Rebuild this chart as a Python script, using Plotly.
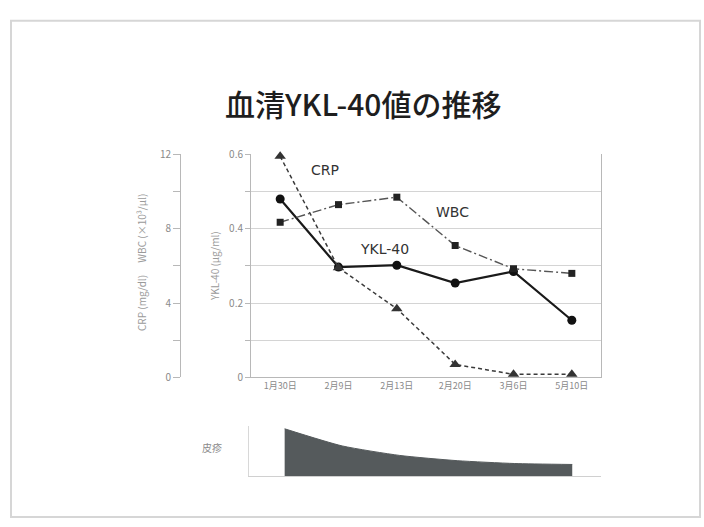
import plotly.graph_objects as go

# Sampling dates
dates = ["1月30日", "2月9日", "2月13日", "2月20日", "3月6日", "5月10日"]

# Serum YKL-40 (μg/ml)
ykl40 = [0.48, 0.297, 0.302, 0.254, 0.285, 0.154]
# WBC (×10³/μl)
wbc = [8.35, 9.3, 9.7, 7.1, 5.85, 5.6]
# CRP (mg/dl)
crp = [11.9, 5.9, 3.7, 0.7, 0.17, 0.17]
# Skin rash intensity (relative)
rash = [1.0, 0.64, 0.44, 0.33, 0.27, 0.25]

W, H = 704, 527
FONT = "Noto Sans CJK JP"


def px(x):
    return x / W


def py(y):
    return 1 - y / H


fig = go.Figure()

# Left scale traces (CRP, WBC)
fig.add_trace(go.Scatter(
    x=dates, y=crp, yaxis="y2", mode="lines+markers", cliponaxis=False,
    line=dict(color="#3a3a3a", width=1.5, dash="4px,3px"),
    marker=dict(symbol="triangle-up", size=10, color="#333333"),
    hoverinfo="skip"))
fig.add_trace(go.Scatter(
    x=dates, y=wbc, yaxis="y2", mode="lines+markers", cliponaxis=False,
    line=dict(color="#555555", width=1.4, dash="9px,3px,2px,3px"),
    marker=dict(symbol="square", size=7, color="#222222"),
    hoverinfo="skip"))
# YKL-40 on the inner scale
fig.add_trace(go.Scatter(
    x=dates, y=ykl40, yaxis="y", mode="lines+markers", cliponaxis=False,
    line=dict(color="#1a1a1a", width=2.2),
    marker=dict(symbol="circle", size=9, color="#111111"),
    hoverinfo="skip"))

# Rash panel
fig.add_trace(go.Scatter(
    x=dates, y=rash, xaxis="x3", yaxis="y3", mode="lines",
    line=dict(color="#555a5c", width=1, shape="spline", smoothing=0.6),
    fill="tozeroy", fillcolor="#555a5c", hoverinfo="skip"))

grid = "#d4d4d4"
axline = "#b8b8b8"
tickfont = dict(family=FONT, size=10, color="#8a8a8a")


def label(text, x, y, size, color, family=FONT, angle=0, weight="normal"):
    return dict(text=text, xref="paper", yref="paper", x=px(x), y=py(y),
                xanchor="center", yanchor="middle", textangle=angle,
                showarrow=False,
                font=dict(family=family, size=size, color=color,
                          weight=weight))


fig.update_layout(
    width=W, height=H,
    margin=dict(l=0, r=0, t=0, b=0),
    paper_bgcolor="white", plot_bgcolor="white",
    showlegend=False,
    xaxis=dict(
        domain=[px(251), px(601)], type="category", range=[-0.5, 5.5],
        showgrid=False, showline=True, linecolor=axline, linewidth=1,
        ticks="", tickfont=dict(family=FONT, size=9, color="#8a8a8a"),
        anchor="y", fixedrange=True),
    yaxis=dict(
        domain=[py(380), py(150)], range=[0, 0.6],
        tickmode="array",
        tickvals=[0, 0.1, 0.2, 0.3, 0.4, 0.5, 0.6],
        ticktext=["0", "", "0.2", "", "0.4", "", "0.6"],
        showgrid=True, gridcolor=grid, gridwidth=1,
        showline=True, linecolor=axline, linewidth=1, mirror=True,
        ticks="outside", ticklen=5, tickcolor=axline,
        tickfont=tickfont, zeroline=False, fixedrange=True),
    yaxis2=dict(
        overlaying="y", anchor="free", position=px(180), side="left",
        range=[0, 12], tickmode="array",
        tickvals=[0, 2, 4, 6, 8, 10, 12],
        ticktext=["0", "", "4", "", "8", "", "12"],
        showgrid=False, showline=True, linecolor=axline, linewidth=1,
        ticks="outside", ticklen=7, tickcolor=axline,
        tickfont=tickfont, zeroline=False, fixedrange=True),
    xaxis3=dict(
        domain=[px(249), px(601)], type="category", range=[-0.62, 5.5],
        anchor="y3", showgrid=False, showline=True, linecolor="#d0d0d0",
        showticklabels=False, ticks="", fixedrange=True),
    yaxis3=dict(
        domain=[py(482), py(430)], range=[0, 1.06], anchor="x3",
        showgrid=False, showline=True, linecolor="#d8d8d8",
        showticklabels=False, ticks="", zeroline=False, fixedrange=True),
    shapes=[
        dict(type="rect", xref="paper", yref="paper",
             x0=px(11), x1=px(700), y0=py(524), y1=py(12),
             line=dict(color="#d6d6d6", width=2), layer="below"),
    ],
    annotations=[
        label("血清YKL-40値の推移", 363, 97, 30, "#1e1e1e", weight=500),
        label("CRP (mg/dl)　 WBC (×10³/μl)", 141, 262, 10, "#9a9a9a",
              angle=-90),
        label("YKL-40 (μg/ml)", 215, 265, 10, "#9a9a9a", angle=-90),
        label("CRP", 325, 166, 14, "#333333", family="DejaVu Sans"),
        label("WBC", 452, 209, 14, "#333333", family="DejaVu Sans"),
        label("YKL-40", 384, 248, 14, "#333333", family="DejaVu Sans"),
        label("皮疹", 212, 452, 10, "#8a8a8a"),
    ],
)

fig.write_html("out.html")
